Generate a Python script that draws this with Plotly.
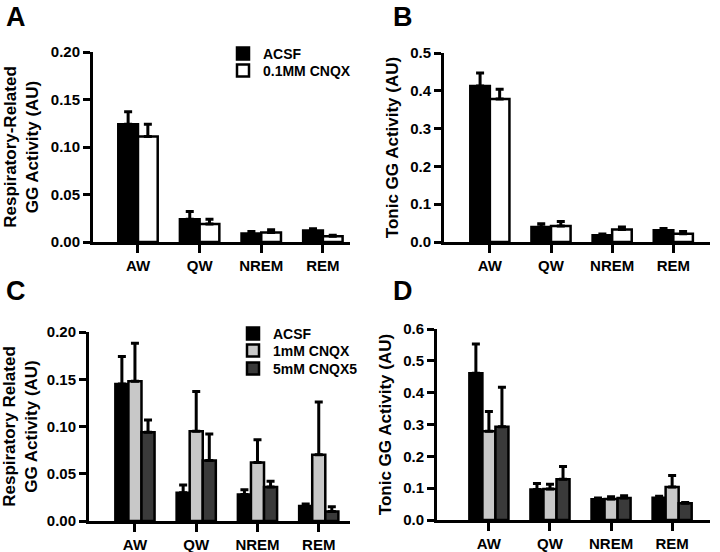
import plotly.graph_objects as go

# categories
states = ['AW', 'QW', 'NREM', 'REM']

# panel A: respiratory-related GG activity, ACSF vs 0.1MM CNQX
a_acsf = [0.124, 0.024, 0.009, 0.012]
a_acsf_err = [0.013, 0.008, 0.002, 0.002]
a_cnqx = [0.111, 0.019, 0.010, 0.006]
a_cnqx_err = [0.013, 0.005, 0.003, 0.001]

# panel B: tonic GG activity
b_acsf = [0.413, 0.040, 0.018, 0.031]
b_acsf_err = [0.034, 0.008, 0.003, 0.005]
b_cnqx = [0.378, 0.042, 0.033, 0.022]
b_cnqx_err = [0.026, 0.012, 0.007, 0.006]

# panel C: respiratory related GG activity, ACSF / 1mM / 5mM
c_acsf = [0.145, 0.030, 0.028, 0.016]
c_acsf_err = [0.029, 0.008, 0.005, 0.002]
c_1mm = [0.148, 0.095, 0.062, 0.070]
c_1mm_err = [0.040, 0.042, 0.024, 0.056]
c_5mm = [0.094, 0.064, 0.036, 0.010]
c_5mm_err = [0.013, 0.028, 0.006, 0.005]

# panel D: tonic GG activity
d_acsf = [0.461, 0.096, 0.065, 0.070]
d_acsf_err = [0.092, 0.019, 0.004, 0.005]
d_1mm = [0.279, 0.097, 0.066, 0.104]
d_1mm_err = [0.062, 0.015, 0.007, 0.036]
d_5mm = [0.293, 0.128, 0.069, 0.053]
d_5mm_err = [0.124, 0.040, 0.007, 0.002]

FONT = 'Liberation Sans, Arial, sans-serif'
BLACK = '#000000'
LIGHT = '#c8c8c8'
DARK = '#3a3a3a'


def bar(y, err, name, fill, xa, ya, legend=None):
    return go.Bar(
        x=states, y=y, name=name,
        xaxis=xa, yaxis=ya,
        marker=dict(color=fill, line=dict(color=BLACK, width=2.5)),
        error_y=dict(type='data', array=err, arrayminus=[0] * len(err),
                     symmetric=False, color=BLACK, thickness=3, width=4),
        showlegend=legend is not None, legend=legend or 'legend',
    )


fig = go.Figure()
fig.add_trace(bar(a_acsf, a_acsf_err, 'ACSF', BLACK, 'x', 'y', 'legend'))
fig.add_trace(bar(a_cnqx, a_cnqx_err, '0.1MM CNQX', '#ffffff', 'x', 'y', 'legend2'))
fig.add_trace(bar(b_acsf, b_acsf_err, 'ACSF', BLACK, 'x2', 'y2'))
fig.add_trace(bar(b_cnqx, b_cnqx_err, '0.1MM CNQX', '#ffffff', 'x2', 'y2'))
fig.add_trace(bar(c_acsf, c_acsf_err, 'ACSF', BLACK, 'x3', 'y3', 'legend3'))
fig.add_trace(bar(c_1mm, c_1mm_err, '1mM CNQX', LIGHT, 'x3', 'y3', 'legend4'))
fig.add_trace(bar(c_5mm, c_5mm_err, '5mM CNQX5', DARK, 'x3', 'y3', 'legend5'))
fig.add_trace(bar(d_acsf, d_acsf_err, 'ACSF', BLACK, 'x4', 'y4'))
fig.add_trace(bar(d_1mm, d_1mm_err, '1mM CNQX', LIGHT, 'x4', 'y4'))
fig.add_trace(bar(d_5mm, d_5mm_err, '5mM CNQX5', DARK, 'x4', 'y4'))

W, H = 720, 552
tickfont = dict(family=FONT, size=15, color=BLACK, weight='bold')
titlefont = dict(family=FONT, size=17, color=BLACK, weight='bold')


def xaxis(left, right, rng, ya):
    return dict(domain=[left / W, right / W], range=rng, anchor=ya,
                showline=True, linecolor=BLACK, linewidth=3,
                ticks='outside', ticklen=8, tickwidth=3, tickcolor=BLACK,
                tickfont=tickfont, showgrid=False, zeroline=False,
                automargin=False, fixedrange=True)


def yaxis(bottom, top, rng, dtick, fmt, title, xa):
    return dict(domain=[1 - bottom / H, 1 - top / H], range=rng, anchor=xa,
                dtick=dtick, tickformat=fmt,
                showline=True, linecolor=BLACK, linewidth=3,
                ticks='outside', ticklen=7, tickwidth=3, tickcolor=BLACK,
                tickfont=tickfont, showgrid=False, zeroline=False,
                title=dict(text=title, font=titlefont, standoff=8),
                automargin=False, fixedrange=True)


def legend_at(px, py):
    # one legend per entry so the rows sit as close as in the original
    return dict(x=px / W, y=1 - py / H, xanchor='left', yanchor='middle',
                bgcolor='rgba(0,0,0,0)',
                font=dict(family=FONT, size=14, color=BLACK, weight='bold'))


fig.update_layout(
    width=W, height=H,
    margin=dict(l=0, r=0, t=0, b=0),
    paper_bgcolor='white', plot_bgcolor='white',
    barmode='group', bargap=0.36, bargroupgap=0,
    font=dict(family=FONT, color=BLACK),
    xaxis=xaxis(93, 350, [-0.73, 3.44], 'y'),
    yaxis=yaxis(242, 52, [0, 0.2], 0.05, '.2f', 'Respiratory-Related<br>GG Activity (AU)', 'x'),
    xaxis2=xaxis(444, 710, [-0.75, 3.6], 'y2'),
    yaxis2=yaxis(242, 53, [0, 0.5], 0.1, '.1f', 'Tonic GG Activity (AU)', 'x2'),
    xaxis3=xaxis(89, 350, [-0.75, 3.51], 'y3'),
    yaxis3=yaxis(521, 332, [0, 0.2], 0.05, '.2f', 'Respiratory Related<br>GG Activity (AU)', 'x3'),
    xaxis4=xaxis(437, 710, [-0.85, 3.62], 'y4'),
    yaxis4=yaxis(520, 329, [0, 0.6], 0.1, '.1f', 'Tonic GG Activity (AU)', 'x4'),
    legend=legend_at(223, 54),
    legend2=legend_at(223, 71),
    legend3=legend_at(233, 334),
    legend4=legend_at(233, 351),
    legend5=legend_at(233, 369),
)

# panel letters
for letter, px, py in [('A', 4, 0), ('B', 391, 0), ('C', 4, 274), ('D', 391, 274)]:
    fig.add_annotation(text=letter, xref='paper', yref='paper',
                       x=px / W, y=1 - py / H, xanchor='left', yanchor='top',
                       showarrow=False,
                       font=dict(family=FONT, size=27, color=BLACK, weight='bold'))

# drop the default page margin so the figure fills the window
fig.write_html('out.html', config={'displayModeBar': False},
               post_script="document.body.style.margin='0';")
